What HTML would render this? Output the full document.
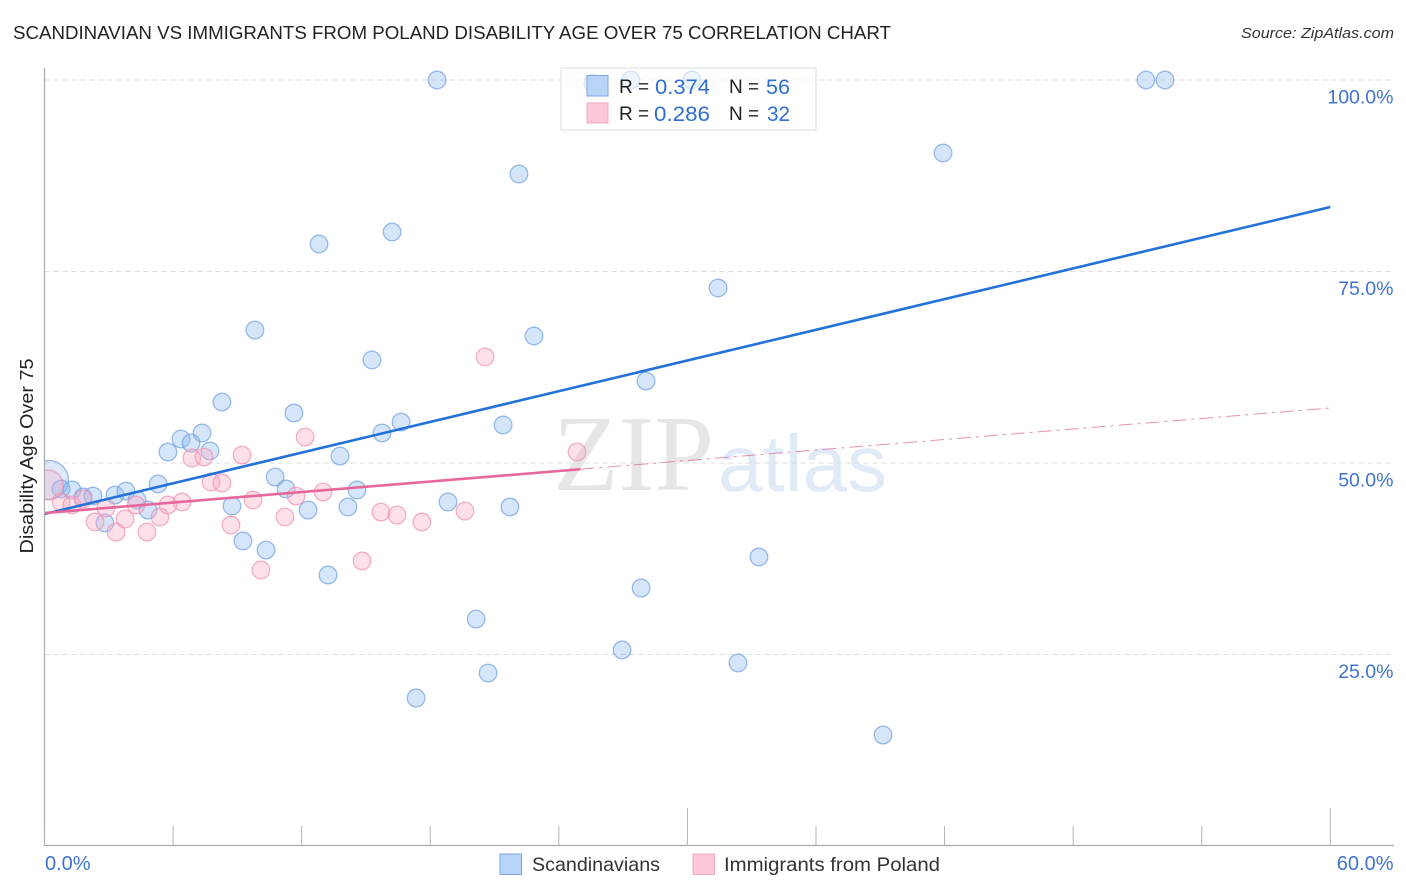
<!DOCTYPE html>
<html>
<head>
<meta charset="utf-8">
<title>Scandinavian vs Immigrants from Poland Disability Age Over 75 Correlation Chart</title>
<style>
html,body{margin:0;padding:0;background:#fff;width:1406px;height:892px;overflow:hidden}
svg{display:block;font-family:"Liberation Sans",sans-serif}
</style>
</head>
<body>
<svg id="chart" xmlns="http://www.w3.org/2000/svg" width="1406" height="892" viewBox="0 0 1406 892">
  <defs>
    <clipPath id="plot-clip"><rect x="44.5" y="60" width="1350" height="786"/></clipPath>
  </defs>
  <rect width="1406" height="892" fill="#fff"/>
  <text x="13" y="39" font-size="18.5" fill="#222" textLength="878" lengthAdjust="spacingAndGlyphs">SCANDINAVIAN VS IMMIGRANTS FROM POLAND DISABILITY AGE OVER 75 CORRELATION CHART</text>
  <text x="1394" y="38" font-size="15" font-style="italic" fill="#333" text-anchor="end" textLength="153" lengthAdjust="spacingAndGlyphs">Source: ZipAtlas.com</text>

  <g>
    <text x="553" y="490" font-family="'Liberation Serif',serif" font-size="108" fill="#e6e6e6" textLength="161" lengthAdjust="spacingAndGlyphs">ZIP</text>
    <text x="718" y="491" font-size="80" fill="#e1ebf8" textLength="169" lengthAdjust="spacingAndGlyphs">atlas</text>
  </g>

  <g id="grid"></g>
  <g id="points" clip-path="url(#plot-clip)"></g>
  <g id="trends"></g>
  <g id="axes"></g>
  <g id="labels"></g>

  <text transform="translate(33,456) rotate(-90)" font-size="18" fill="#222" text-anchor="middle" textLength="195" lengthAdjust="spacingAndGlyphs">Disability Age Over 75</text>

  <g>
    <rect x="561" y="68" width="255" height="62" fill="#fff" fill-opacity="0.6" stroke="#ddd" stroke-width="1"/>
    <rect x="587" y="75.500" width="21" height="20.500" fill="#b8d4f7" stroke="#7ea6e0" stroke-width="1"/>
    <rect x="587" y="103" width="21" height="20" fill="#fdc8d8" stroke="#f0a8c0" stroke-width="1"/>
    <text x="619" y="93" font-size="19" fill="#222">R =</text>
    <text x="655" y="94" font-size="21" fill="#2f6fd0" textLength="55" lengthAdjust="spacingAndGlyphs">0.374</text>
    <text x="729" y="93" font-size="19" fill="#222">N =</text>
    <text x="766" y="94" font-size="21" fill="#2f6fd0" textLength="24" lengthAdjust="spacingAndGlyphs">56</text>
    <text x="619" y="120" font-size="19" fill="#222">R =</text>
    <text x="654" y="121" font-size="21" fill="#2f6fd0" textLength="56" lengthAdjust="spacingAndGlyphs">0.286</text>
    <text x="729" y="120" font-size="19" fill="#222">N =</text>
    <text x="767" y="121" font-size="21" fill="#2f6fd0" textLength="23" lengthAdjust="spacingAndGlyphs">32</text>
  </g>

  <g>
    <g>
      <rect x="500" y="854" width="21.500" height="20.500" fill="#b8d4f7" stroke="#7ea6e0" stroke-width="1"/>
      <text x="532" y="871" font-size="19.500" fill="#333" textLength="128" lengthAdjust="spacingAndGlyphs">Scandinavians</text>
    </g>
    <g>
      <rect x="693" y="854" width="21.500" height="20.500" fill="#fdc8d8" stroke="#f0a8c0" stroke-width="1"/>
      <text x="724" y="871" font-size="19.500" fill="#333" textLength="216" lengthAdjust="spacingAndGlyphs">Immigrants from Poland</text>
    </g>
  </g>
</svg>
<script>
var blueX = [18.32,25.59,27.36,30.21,51.40,52.29,41.93,22.14,16.22,12.81,31.43,22.84,9.82,15.28,28.07,8.28,11.64,16.64,21.40,15.75,6.37,7.35,6.84,7.72,5.76,13.79,5.30,10.76,11.27,14.58,0.21,0.77,1.28,1.80,2.26,3.29,3.80,4.32,4.83,2.82,8.75,12.30,14.16,18.83,21.72,9.26,10.34,13.23,33.34,27.84,20.14,26.95,20.70,32.36,17.34,39.13];
var blueY = [100,99.6,100,100,100,100,90.47,87.73,80.16,78.59,72.85,66.58,67.36,63.45,60.70,57.96,56.53,55.35,54.96,53.92,53.13,53.92,52.61,51.57,51.44,50.91,47.26,48.17,46.61,46.48,47.78,46.61,46.48,45.56,45.69,45.82,46.34,45.17,43.86,42.17,44.39,43.86,44.26,44.91,44.26,39.82,38.64,35.38,37.73,33.68,29.63,25.59,22.58,23.89,19.32,14.49];
var pinkX = [0.77,1.28,1.80,2.36,2.87,3.34,3.76,4.27,4.78,5.39,5.76,6.42,6.88,7.44,7.77,8.28,8.70,9.22,9.73,10.10,11.22,11.74,12.16,13.00,14.82,15.70,16.45,17.61,19.62,20.56,24.85,0.16];
var pinkY = [44.91,44.52,45.30,42.30,44.13,40.99,42.69,44.52,40.99,42.95,44.52,44.91,50.65,50.78,47.52,47.39,41.91,51.04,45.17,36.03,42.95,45.69,53.39,46.21,37.21,43.60,43.21,42.30,43.73,63.84,51.44,47.13];
var blueTrend = [43.34,83.42];
var pinkTrend = [43.47,57.18];
var pinkSolidEnd = [25];
var xTicks = [0,6,12,18,24,30,36,42,48,54,60];
var xMajorTicks = [0,30,60];
var xTickLabels = ["0.0%","60.0%"];
var xLabelValues = [0,60];
var yTicks = [25,50,75,100];
var yTickLabels = ["25.0%","50.0%","75.0%","100.0%"];

var NS = 'http://www.w3.org/2000/svg';
function sx(v){ return 44.5 + v * 21.43; }
function sy(v){ return 846 - v * 7.66; }
function make(tag, attrs, parent){
  var el = document.createElementNS(NS, tag);
  for (var k in attrs) el.setAttribute(k, attrs[k]);
  parent.appendChild(el);
  return el;
}
var grid = document.getElementById('grid');
var pointsG = document.getElementById('points');
var trends = document.getElementById('trends');
var axes = document.getElementById('axes');
var labels = document.getElementById('labels');

yTicks.forEach(function(t){
  var l = make('line', {x1:44.5, x2:1394, y1:sy(t), y2:sy(t), stroke:'#dcdcdc', 'stroke-width':1, 'stroke-dasharray':'5 4'}, grid);
  
  
});

function drawPoints(xs, ys, fill, stroke, bigR, name){
  xs.forEach(function(x, i){
    var big = x < 0.5;
    var c = make('circle', {cx:sx(x), cy:sy(ys[i]), r:big ? bigR : 8.8, fill:fill, 'fill-opacity':big ? 0.3 : 0.36, stroke:stroke, 'stroke-opacity':0.7, 'stroke-width':1.3}, pointsG);
    
    
  });
}
drawPoints(blueX, blueY, '#8ab8f2', '#6f9fe0', 19.5, 'scandinavians-point');
drawPoints(pinkX, pinkY, '#fba8c2', '#f090b0', 15, 'poland-point');

var blueLine = make('line', {x1:sx(0), y1:sy(blueTrend[0]), x2:sx(60), y2:sy(blueTrend[1]), stroke:'#2272d8', 'stroke-width':2.6}, trends);



function pinkAt(x){ return pinkTrend[0] + (pinkTrend[1] - pinkTrend[0]) * x / 60; }
var pinkDash = make('line', {x1:sx(pinkSolidEnd[0]), y1:sy(pinkAt(pinkSolidEnd[0])), x2:sx(60), y2:sy(pinkTrend[1]), stroke:'#e06c98', 'stroke-opacity':0.75, 'stroke-width':1, 'stroke-dasharray':'14 5 3 5'}, trends);


var pinkLine = make('line', {x1:sx(0), y1:sy(pinkTrend[0]), x2:sx(pinkSolidEnd[0]), y2:sy(pinkAt(pinkSolidEnd[0])), stroke:'#e8679a', 'stroke-width':2.6}, trends);



var yAxis = make('line', {x1:44.5, x2:44.5, y1:68, y2:846, stroke:'#aaa', 'stroke-width':1.2}, axes);


var xAxis = make('line', {x1:44, x2:1394, y1:845.5, y2:845.5, stroke:'#aaa', 'stroke-width':1.2}, axes);


xTicks.forEach(function(t){
  var major = xMajorTicks.indexOf(t) >= 0 && t !== 0;
  var tick = make('line', {x1:sx(t), x2:sx(t), y1:major ? 808 : 826, y2:846, stroke:'#b4b4b4', 'stroke-width':1}, axes);
  
  
});

yTicks.forEach(function(t, i){
  var lab = make('text', {x:1393.5, y:sy(t) + 23.5, 'font-size':19.5, fill:'#3f74d1', 'text-anchor':'end'}, labels);
  lab.textContent = yTickLabels[i];
  
  
});
xLabelValues.forEach(function(v, i){
  var atEnd = v === 60;
  var lab = make('text', {x:atEnd ? 1393.5 : 45, y:870, 'font-size':20, fill:'#3f74d1', 'text-anchor':atEnd ? 'end' : 'start'}, labels);
  lab.textContent = xTickLabels[i];
  
  
});
</script>
</body>
</html>
